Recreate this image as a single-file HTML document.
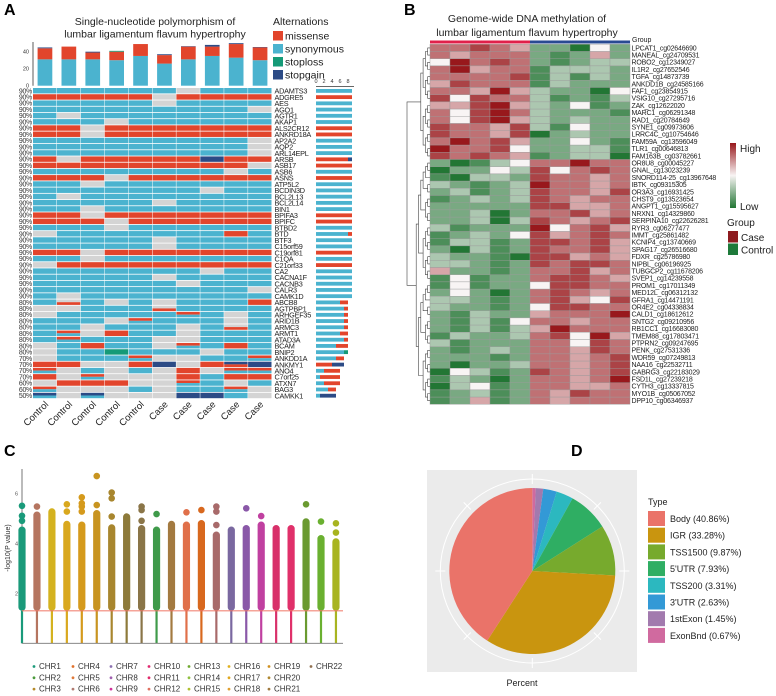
<!DOCTYPE html>
<html><head><meta charset="utf-8">
<style>
html,body{margin:0;padding:0;background:#fff;}
svg{display:block;font-family:"Liberation Sans",sans-serif;}
</style></head>
<body>
<svg id="fig" width="776" height="696" viewBox="0 0 776 696" xmlns="http://www.w3.org/2000/svg">
<text x="4" y="15" font-size="16" font-weight="bold">A</text>
<text x="404" y="15" font-size="16" font-weight="bold">B</text>
<text x="4" y="456" font-size="16" font-weight="bold">C</text>
<text x="571" y="456" font-size="16" font-weight="bold">D</text>
<text x="155" y="25" font-size="10.5" text-anchor="middle" fill="#222">Single-nucleotide polymorphism of</text>
<text x="155" y="37.5" font-size="10.5" text-anchor="middle" fill="#222">lumbar ligamentum flavum hypertrophy</text>
<text x="273" y="25" font-size="10.5" fill="#222">Alternations</text>
<text x="527" y="22" font-size="10.5" text-anchor="middle" fill="#222">Genome-wide DNA methylation of</text>
<text x="527" y="36" font-size="10.5" text-anchor="middle" fill="#222">lumbar ligamentum flavum hypertrophy</text>
<g id="gA"></g><g id="gB"></g><g id="gC"></g><g id="gD"></g>
</svg>
<script>
// ---------- Panel A data ----------
var aGenes = ["ADAMTS3","ADGRE5","AES","AGO1","AGTR1","AKAP1","ALS2CR12","ANKRD18A","AP2A2","AQP2","ARL14EPL","ARSB","ASB17","ASB6","ASNS","ATP5L2","BCDIN3D","BCL2L13","BCL2L14","BIN1","BPIFA3","BPIFC","BTBD2","BTD","BTF3","C15orf59","C19orf81","C1QA","C21orf33","CA2","CACNA1F","CACNB3","CALR3","CAMK1D","ABCB8","AGTPBP1","ARHGEF35","ARID1B","ARMC3","ARMT1","ATAD3A","BCAM","BNIP2","ANKDD1A","ANKMY1","ANO4","C7orf25","ATXN7","BAG3","CAMKK1"];
var aPct = ["90%","90%","90%","90%","90%","90%","90%","90%","90%","90%","90%","90%","90%","90%","90%","90%","90%","90%","90%","90%","90%","90%","90%","90%","90%","90%","90%","90%","90%","90%","90%","90%","90%","90%","80%","80%","80%","80%","80%","80%","80%","80%","80%","70%","70%","70%","70%","60%","60%","50%"];
// s=synonymous m=missense l=stoploss b=stopgain g=none ; 2 chars = top/bottom halves
var aCells = [
"s s s s s s g s s s","m m m m m g m m m m","s s s s s g s s s s","s s s s s s s s s g","s g s s s s s s s s",
"s s s g s s s s s s","m m g m m m m m m m","m m g m m m m m m m","s s s s s s s s s g","s s s s s s s s s g",
"s s s s s s s s s g","m g m m m m m b m m","m m m m m m m m m g","s s s s s s s s g s","m m m g m m m m m m",
"s s g s s s s s s s","s s s s s s s g s s","s g s s s s s s s s","s s s s s g s s s s","s s g s s s s s s s",
"m m g m m m m m m m","m m m g m m m m m m","s s s g s s s s s s","g s s s s s s s m s","s s s s s g s s s s",
"s s s s s g s s s s","m m g m m m m m m m","s s g s s s s s s s","g m m m m m m m m m","s s s s s s s g s s",
"s s s s s g s s s s","s s s s s s g s s s","s s s s s s s s s g","s g s s s s s s s s",
"s gm s g s g s s s m","g g s s s gm s s s s","g s s s s s ms s g s","s s s g ms s s s g s","s s g s s s g s gm s",
"s ms g m s s g s s s","s ms s s s g g s s s","g s m s s g ms s m s","g s s l s s s g s s",
"g s s s ms g g s s ms","m m g g m b g m bm b","ms g s g s g m g ms ms","m g ms g g g m s m m","g m m m g g ms s g s",
"ms g g g s g s s ms g","bs g bs g g g b b s g"];
var aSamples = ["Control","Control","Control","Control","Control","Case","Case","Case","Case","Case"];
var aSyn = [31,31,31,30,35,26,31,35,33,30];
var aMis = [13,15,8,10,14,10,15,11,16,15];
var aLoss = [0,0,0,1,0,0,0,0,0,0];
var aGain = [1,0,1,0,0,1,0.5,2,1,0.5];
var aTopTicks = [0,20,40];
var aSideTicks = [0,2,4,6,8];
var aTypes = ["missense","synonymous","stoploss","stopgain"];
// ---------- Panel B data ----------
var bProbes = ["LPCAT1_cg02646690","MANEAL_cg24709531","ROBO2_cg12349027","IL1R2_cg27652546","TGFA_cg14873739","ANKDD1B_cg24585166","FAF1_cg23854915","VSIG10_cg27295716","ZAK_cg12622020","MARC1_cg06291348","RAD1_cg20784649","SYNE1_cg09973606","LRRC4C_cg10754646","FAM59A_cg13596049","TLR1_cg00646813","FAM163B_cg03782661","OR8U8_cg00045227","GNAL_cg13023239","SNORD114-25_cg13967648","IBTK_cg09315305","OR3A3_cg16931425","CHST9_cg13523654","ANGPT1_cg15595627","NRXN1_cg14329860","SERPINA10_cg22626281","RYR3_cg06277477","IMMT_cg25861482","KCNIP4_cg13740669","SPAG17_cg26516680","FDXR_cg25786980","NIPBL_cg06196925","TUBGCP2_cg11678206","SVEP1_cg14239558","PROM1_cg17011349","MED12L_cg06312132","GFRA1_cg14471191","OR4E2_cg04338834","CALD1_cg18612612","SNTG2_cg09210956","RB1CC1_cg16683080","TMEM88_cg17803471","PTPRN2_cg09247695","PENK_cg27531336","WDR59_cg07249813","NAA16_cg22532711","GABRG3_cg22183029","FSD1L_cg27239218","CYTH3_cg13337815","MYO1B_cg05067052","DPP10_cg06346937"];
// 0 = low (green), 4 = mid (white), 8 = high (red)
var bValues = [
[6,6,7,6,5,2,2,0,4,2],[6,5,6,6,6,2,1,2,5,2],[4,8,6,7,6,2,1,2,3,3],[6,8,5,6,6,1,3,3,3,2],[6,6,6,6,7,1,3,1,3,2],
[5,7,6,6,6,1,3,2,2,2],[6,6,5,8,5,3,2,2,0,4],[7,4,7,6,6,3,1,2,1,3],[5,5,7,8,5,3,2,4,1,2],[6,4,7,8,6,3,2,2,2,1],
[6,4,7,8,5,3,2,3,2,2],[7,6,6,5,7,3,1,4,2,2],[7,6,6,5,7,0,2,3,2,2],[6,8,6,7,5,2,2,4,2,1],[8,6,6,7,4,2,2,3,3,1],
[7,6,7,6,5,1,2,3,3,0],[2,0,1,3,4,6,6,8,6,6],[0,2,2,4,3,7,4,6,7,6],[1,0,3,3,2,7,6,6,5,6],[3,2,1,2,3,8,6,6,5,6],
[2,3,1,2,3,7,6,6,5,7],[1,2,3,2,3,7,6,5,6,6],[2,2,2,2,2,7,7,5,5,6],[2,2,3,0,2,6,6,7,5,6],[2,2,3,0,3,7,6,5,6,7],
[3,1,2,2,2,8,4,6,7,5],[1,2,3,2,4,7,5,6,7,6],[1,3,3,1,2,7,7,6,7,5],[2,0,3,1,2,7,6,6,7,5],[3,2,2,1,0,7,7,5,6,5],
[3,3,2,1,2,7,6,7,7,6],[5,2,2,1,2,6,6,7,5,6],[1,4,1,2,2,6,7,7,6,5],[1,4,1,2,2,4,7,7,6,6],[2,4,2,0,2,6,7,6,5,6],
[3,3,2,1,2,6,7,5,4,7],[3,2,2,1,2,4,7,7,6,6],[2,1,3,2,2,5,6,6,6,8],[2,1,3,1,4,6,6,5,6,6],[2,1,3,1,3,5,8,6,6,6],
[1,3,2,2,3,6,7,4,8,5],[3,1,2,2,2,6,6,4,7,6],[2,1,2,3,2,6,6,5,7,6],[2,2,2,1,2,6,6,5,6,7],[2,0,2,2,3,6,6,5,6,7],
[0,4,3,1,2,7,6,5,6,7],[1,3,2,0,2,6,6,5,6,8],[0,3,4,1,2,6,6,5,5,6],[1,2,3,1,2,6,5,7,6,6],[1,2,5,1,2,6,5,6,6,6]];
var bGroups = ["Case","Case","Case","Case","Case","Control","Control","Control","Control","Control"];
// ---------- Panel C data ----------
var cChrLabels = ["CHR1","CHR2","CHR3","CHR4","CHR5","CHR6","CHR7","CHR8","CHR9","CHR10","CHR11","CHR12","CHR13","CHR14","CHR15","CHR16","CHR17","CHR18","CHR19","CHR20","CHR21","CHR22"];
var cSolidMax = [4.67,5.27,5.4,4.9,4.87,5.33,4.76,5.2,4.73,4.67,4.9,4.87,4.93,4.47,4.67,4.73,4.87,4.73,4.73,5.0,4.33,4.2];
var cTopPoints = [[5.5,5.1,4.9],[5.47],[],[5.56,5.27],[5.84,5.6,5.47,5.27],[6.69,5.53],[6.03,5.8,5.07],[],[5.47,5.33,4.9],[5.17],[],[5.24],[5.33],[5.47,5.27,4.73],[],[5.4],[5.09],[],[],[5.56],[4.87],[4.8,4.43]];
var cYTicks = [2,4,6];
var cThreshold = 1.3;
// ---------- Panel D data ----------
var dTypes = ["Body","IGR","TSS1500","5'UTR","TSS200","3'UTR","1stExon","ExonBnd"];
var dPercents = [40.86,33.28,9.87,7.93,3.31,2.63,1.45,0.67];

var NS = "http://www.w3.org/2000/svg";
function mk(tag, attrs, parent){ var e=document.createElementNS(NS,tag); for(var k in attrs) e.setAttribute(k,attrs[k]); parent.appendChild(e); return e; }

// ================= Panel A =================
(function(){
  var g=document.getElementById("gA");
  var col={m:"#e2452c",s:"#4bb3cf",l:"#159a77",b:"#2c4b86",g:"#d4d4d4"};
  var x0=33, cw=23.9, y0=88, rh=6.22;
  function cx(j){return x0+j*cw;}
  function ry(i){return y0+i*rh;}
  var lc=["m","s","l","b"];
  for(var k=0;k<4;k++){
    var r=mk("rect",{x:273,y:31+k*13,width:10,height:9.5,fill:col[lc[k]]},g);
    
    
    var t=mk("text",{x:285,y:39.5+k*13,"font-size":10.5,fill:"#222"},g); t.textContent=aTypes[k];
    
    
  }
  var base=85.7, sc=17/20;
  var ax=mk("line",{x1:33,y1:42,x2:33,y2:base,stroke:"#333","stroke-width":0.8},g);
  
  
  aTopTicks.forEach(function(v){
    var tk=mk("text",{x:29,y:base-v*sc+2,"font-size":5.5,"text-anchor":"end",fill:"#333"},g); tk.textContent=v;
    
    
  });
  for(var j=0;j<10;j++){
    var segs=[[aSyn[j],col.s],[aMis[j],col.m],[aLoss[j],col.l],[aGain[j],col.b]], y=base;
    for(var q=0;q<4;q++){ if(!segs[q][0]) continue; var h=segs[q][0]*sc; y-=h;
      var b=mk("rect",{x:cx(j)+4.6,y:y,width:14.7,height:h,fill:segs[q][1]},g);
      
      
    }
  }
  for(var i=0;i<aGenes.length;i++){
    var toks=aCells[i].split(" "), counts={m:0,s:0,l:0,b:0};
    for(var j=0;j<10;j++){
      var tk=toks[j];
      if(tk.length===1){
        var c=mk("rect",{x:cx(j),y:ry(i),width:cw-0.5,height:rh-0.8,fill:col[tk]},g);
        
        
      } else {
        var c1=mk("rect",{x:cx(j),y:ry(i),width:cw-0.5,height:(rh-0.8)/2,fill:col[tk[0]]},g);
        
        
        var c2=mk("rect",{x:cx(j),y:ry(i)+(rh-0.8)/2,width:cw-0.5,height:(rh-0.8)/2,fill:col[tk[1]]},g);
        
        
      }
      var p=tk.replace(/g/g,"")[0]; if(p) counts[p]++;
    }
    var pt=mk("text",{x:32,y:ry(i)+5.3,"font-size":7,"text-anchor":"end",fill:"#333","letter-spacing":"-0.3"},g); pt.textContent=aPct[i];
    
    
    var gl=mk("text",{x:274.5,y:ry(i)+5.6,"font-size":7.3,fill:"#222","letter-spacing":"-0.25"},g); gl.textContent=aGenes[i];
    
    
    var sx=316, su=4, order=["s","m","l","b"];
    if(aCells[i].indexOf("m")>=0 && counts.m>counts.s){ order=["m","s","l","b"]; }
    if(i>=43){ order=["s","m","l","b"]; }
    for(var q=0;q<4;q++){ var n=counts[order[q]]; if(!n) continue;
      var sb=mk("rect",{x:sx,y:ry(i)+1,width:n*su,height:rh-2.4,fill:col[order[q]]},g);
      
      
      sx+=n*su;
    }
  }
  var sa=mk("line",{x1:316,y1:86.5,x2:354,y2:86.5,stroke:"#333","stroke-width":0.8},g);
  
  
  aSideTicks.forEach(function(v){
    var t=mk("text",{x:316+v*4,y:83,"font-size":5.5,"text-anchor":"middle",fill:"#333"},g); t.textContent=v;
    
    
  });
  for(var j=0;j<10;j++){
    var sxp=cx(j)+cw/2+4, syp=405;
    var st=mk("text",{x:sxp,y:syp,"font-size":9.5,"text-anchor":"end",fill:"#222",transform:"rotate(-45 "+sxp+" "+syp+")"},g);
    st.textContent=aSamples[j];
    
    
  }
})();

// ================= Panel B =================
(function(){
  var g=document.getElementById("gB");
  var x0=430, cw=20, y0=44.3, rh=7.2;
  var lo=[34,118,52], mid=[248,244,244], hi=[152,24,28];
  function color(v){ var t,a,b; if(v<=4){t=Math.pow((4-v)/4,0.75);a=mid;b=lo;}else{t=Math.pow((v-4)/4,0.75);a=mid;b=hi;}
    return "rgb("+a.map(function(c,k){return Math.round(c+(b[k]-c)*t);}).join(",")+")"; }
  for(var j=0;j<10;j++){
    var gb=mk("rect",{x:x0+j*cw,y:40.5,width:cw,height:3,fill:bGroups[j]==="Case"?"#e0204a":"#2a4a92"},g);
    
    
  }
  var gt=mk("text",{x:632,y:42,"font-size":7,fill:"#222"},g); gt.textContent="Group";
  
  
  for(var i=0;i<bProbes.length;i++){
    for(var j=0;j<10;j++){
      var c=mk("rect",{x:x0+j*cw,y:y0+i*rh,width:cw,height:rh,fill:color(bValues[i][j]),stroke:"#9a9a9a","stroke-width":0.4},g);
      
      
    }
    var t=mk("text",{x:631.5,y:y0+i*rh+6,"font-size":7,fill:"#222","letter-spacing":"-0.2"},g); t.textContent=bProbes[i];
    
    
  }
  function yc(i){return y0+i*rh+rh/2;}
  function sub(a,b){ if(a===b) return [x0,yc(a)]; var m=Math.floor((a+b)/2); var L=sub(a,m),R=sub(m+1,b);
    var x=Math.min(L[0],R[0])-2.3;
    var p=mk("path",{d:"M"+L[0]+","+L[1]+"H"+x+"V"+R[1]+"H"+R[0],fill:"none",stroke:"#444","stroke-width":0.6},g);
    
    
    return [x,(L[1]+R[1])/2]; }
  var A=sub(0,15), B=sub(16,49);
  var root=mk("path",{d:"M"+A[0]+","+A[1]+"H407V"+B[1]+"H"+B[0],fill:"none",stroke:"#444","stroke-width":0.6},g);
  
  
  var defs=mk("defs",{},g);
  var lg=mk("linearGradient",{id:"hg",x1:0,y1:0,x2:0,y2:1},defs);
  mk("stop",{offset:"0",  "stop-color":color(8)},lg);
  mk("stop",{offset:"0.5","stop-color":color(4)},lg);
  mk("stop",{offset:"1",  "stop-color":color(0)},lg);
  var cb=mk("rect",{x:730,y:143,width:6,height:65,fill:"url(#hg)"},g);
  
  
  var th=mk("text",{x:740,y:152,"font-size":10,fill:"#222"},g); th.textContent="High";
  
  
  var tl=mk("text",{x:740,y:210,"font-size":10,fill:"#222"},g); tl.textContent="Low";
  
  
  var lgt=mk("text",{x:727,y:226,"font-size":10,fill:"#222"},g); lgt.textContent="Group";
  
  
  var gn=["Case","Control"], gc=["#8e1b1f","#1e7a3a"];
  for(var k=0;k<2;k++){
    var s=mk("rect",{x:728,y:231+k*12.5,width:10,height:11.5,fill:gc[k]},g);
    
    
    var t=mk("text",{x:741,y:241+k*12.5,"font-size":10,fill:"#222"},g); t.textContent=gn[k];
    
    
  }
})();

// ================= Panel C =================
(function(){
  var g=document.getElementById("gC");
  var plotColors=["#1a9a7a","#b57560","#d4b21f","#d9a81e","#d59a1c","#c89420","#a8862e","#8d7a3a","#8a7548","#3f9a4a","#a37a40","#e0704a","#d8681e","#a86a6a","#7a68a0","#8a58a8","#c040a0","#d8306a","#e0306a","#6a9a30","#6ab030","#a8b420"];
  var legColors=["#1a9a7a","#4a9a3a","#b58a2a","#e0702a","#e07a3a","#b07a70","#8a70b0","#a060b0","#d0309a","#e02a70","#e02a6a","#e07060","#70a830","#90c040","#b0c030","#e0b020","#e0a820","#e0a030","#d09020","#b08830","#a07a40","#907050"];
  function X(i){return 22+i*14.95;}
  function Y(v){return 643.3-v*25;}
  var ya=mk("line",{x1:22,y1:469,x2:22,y2:643.3,stroke:"#555","stroke-width":0.8},g);
  
  
  cYTicks.forEach(function(v){
    var t=mk("text",{x:18,y:Y(v)+2,"font-size":5.5,"text-anchor":"end",fill:"#555"},g); t.textContent=v;
    
    
  });
  var yl=mk("text",{x:10,y:548,"font-size":7,"text-anchor":"middle",fill:"#333",transform:"rotate(-90 10 548)"},g); yl.textContent="-log10(P value)";
  
  
  for(var i=0;i<cSolidMax.length;i++){
    var x=X(i), c=plotColors[i];
    var lo=mk("line",{x1:x,y1:Y(0),x2:x,y2:Y(cThreshold),stroke:c,"stroke-width":2.2},g);
    
    
    var hi=mk("rect",{x:x-3.6,y:Y(cSolidMax[i]),width:7.2,height:Y(cThreshold)-Y(cSolidMax[i]),rx:3.6,fill:c},g);
    
    
    cTopPoints[i].forEach(function(v){
      var p=mk("circle",{cx:x,cy:Y(v),r:3.3,fill:c},g);
      
      
    });
  }
  var xa=mk("line",{x1:22,y1:643.3,x2:343,y2:643.3,stroke:"#777","stroke-width":0.8},g);
  
  
  var tl=mk("line",{x1:22,y1:Y(cThreshold),x2:343,y2:Y(cThreshold),stroke:"#f07060","stroke-width":1.2,opacity:0.85},g);
  
  
  var colX=[33,72,110,148,188,228,268,310];
  for(var i=0;i<cChrLabels.length;i++){
    var col=Math.floor(i/3), row=i%3, yy=669+row*11.3;
    var d=mk("circle",{cx:colX[col]+1,cy:yy-2.5,r:1.4,fill:legColors[i]},g);
    
    
    var t=mk("text",{x:colX[col]+6,y:yy,"font-size":8,fill:"#333"},g); t.textContent=cChrLabels[i];
    
    
  }
})();

// ================= Panel D =================
(function(){
  var g=document.getElementById("gD");
  var cols=["#ea7369","#c9950f","#77aa2d","#2fae63","#2cb8bf","#3399d6","#a27aae","#d06a9f"];
  var bg=mk("rect",{x:427,y:470,width:210,height:202,fill:"#ebebeb"},g);
  
  
  var cx=532.3, cy=571, R=83, R2=92;
  var oc=mk("circle",{cx:cx,cy:cy,r:R2,fill:"none",stroke:"#fff","stroke-width":1},g);
  
  
  for(var k=0;k<8;k++){ var a=k*Math.PI/4;
    var gl=mk("line",{x1:cx+Math.sin(a)*(R2-5),y1:cy-Math.cos(a)*(R2-5),x2:cx+Math.sin(a)*(R2+5),y2:cy-Math.cos(a)*(R2+5),stroke:"#fff","stroke-width":1},g);
    
    
  }
  var total=dPercents.reduce(function(a,b){return a+b;},0), cum=0;
  for(var i=dPercents.length-1;i>=0;i--){
    var a0=cum/total*2*Math.PI; cum+=dPercents[i]; var a1=cum/total*2*Math.PI;
    var large=(a1-a0)>Math.PI?1:0;
    var d="M"+cx+","+cy+"L"+(cx+R*Math.sin(a0))+","+(cy-R*Math.cos(a0))+"A"+R+","+R+" 0 "+large+" 1 "+(cx+R*Math.sin(a1))+","+(cy-R*Math.cos(a1))+"Z";
    var p=mk("path",{d:d,fill:cols[i]},g);
    
    
  }
  var pl=mk("text",{x:522,y:686,"font-size":9,"text-anchor":"middle",fill:"#222"},g); pl.textContent="Percent";
  
  
  var tt=mk("text",{x:648,y:505,"font-size":9,fill:"#222"},g); tt.textContent="Type";
  
  
  for(var i=0;i<dTypes.length;i++){
    var y=511+i*16.7;
    var s=mk("rect",{x:648,y:y,width:17,height:15,fill:cols[i]},g);
    
    
    var t=mk("text",{x:670,y:y+11,"font-size":9,fill:"#222"},g); t.textContent=dTypes[i]+" ("+dPercents[i].toFixed(2)+"%)";
    
    
  }
})();
</script>
</body></html>
